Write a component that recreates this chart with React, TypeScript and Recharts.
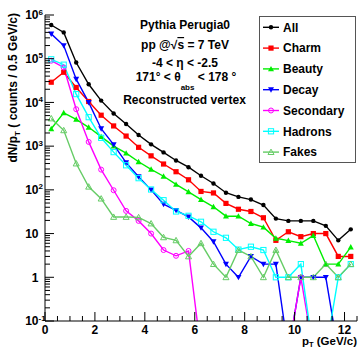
import { LineChart, Line, XAxis, YAxis } from 'recharts'

// pT bin centres, 0.5 GeV/c wide bins
const ptBins = [
  0.25, 0.75, 1.25, 1.75, 2.25, 2.75, 3.25, 3.75, 4.25, 4.75, 5.25, 5.75, 6.25,
  6.75, 7.25, 7.75, 8.25, 8.75, 9.25, 9.75, 10.25, 10.75, 11.25, 11.75, 12.25,
]

// counts per bin for each source (0 = empty bin)
const allCounts = [590000, 400000, 82000, 26000, 11000, 5600, 3200, 1800, 1100, 720, 470, 330, 210, 140, 86, 69, 60, 45, 22, 19.5, 19.5, 19.5, 15, 7, 12.5]
const charmCounts = [29000, 49000, 22000, 10500, 5100, 2900, 1700, 940, 600, 390, 260, 170, 92, 85, 49, 36, 32, 23, 7, 11, 8.5, 10, 10, 3, 3]
const beautyCounts = [2500, 5800, 4100, 2700, 1650, 1000, 690, 440, 295, 205, 133, 90, 60, 41, 25, 25, 17, 14, 7.8, 6.9, 6, 9, 2, 2, 4.9]
const decayCounts = [370000, 200000, 34000, 10000, 2500, 1080, 420, 200, 100, 47, 34, 24, 13.5, 6.5, 2, 1, 3, 2, 2, 0, 1, 1, 1, 0, 0]
const secondaryCounts = [90000, 63000, 7000, 1250, 290, 98, 33, 19.5, 10, 4.2, 3.1, 4, 0, 0, 0, 0, 0, 0, 0, 0, 1, 0, 0, 0, 0]
const hadronCounts = [97000, 73000, 15500, 4600, 1550, 730, 365, 185, 102, 58, 32, 25.5, 18.6, 11, 8, 4.3, 5, 4.2, 1, 1, 2, 0, 0, 1, 2]
const fakeCounts = [4300, 2300, 400, 118, 63, 24, 24, 23.5, 17, 8.2, 7, 3, 6, 2, 1, 4.2, 3, 1, 4.2, 1, 1, 1, 2, 1, 2]

const xTicks = Array.from({ length: 26 }, (_, i) => i * 0.5)
const yTicks: number[] = []
for (let e = -1; e <= 5; e++) {
  for (let m = 1; m <= 9; m++) yTicks.push(m * Math.pow(10, e))
}
yTicks.push(1e6)

// empty bins are pushed below the axis so the line drops out of the frame
const EMPTY = 0.02

type Shape = 'circle' | 'square' | 'tri' | 'triDown' | 'openCircle' | 'openSquare' | 'openTri'

const series: { key: string; name: string; values: number[]; color: string; shape: Shape }[] = [
  { key: 'all', name: 'All', values: allCounts, color: '#000000', shape: 'circle' },
  { key: 'charm', name: 'Charm', values: charmCounts, color: '#ff0000', shape: 'square' },
  { key: 'beauty', name: 'Beauty', values: beautyCounts, color: '#00ee00', shape: 'tri' },
  { key: 'decay', name: 'Decay', values: decayCounts, color: '#0000ff', shape: 'triDown' },
  { key: 'secondary', name: 'Secondary', values: secondaryCounts, color: '#ff00ff', shape: 'openCircle' },
  { key: 'hadrons', name: 'Hadrons', values: hadronCounts, color: '#00ffff', shape: 'openSquare' },
  { key: 'fakes', name: 'Fakes', values: fakeCounts, color: '#66cc66', shape: 'openTri' },
]

const rows = ptBins.map((pt, i) => {
  const row: Record<string, number> = { pt }
  series.forEach((s) => {
    row[s.key] = s.values[i] > 0 ? s.values[i] : EMPTY
  })
  return row
})

const FONT = '"Liberation Sans", Arial, Helvetica, sans-serif'

function Marker({ cx, cy, shape, color }: { cx: number; cy: number; shape: Shape; color: string }) {
  switch (shape) {
    case 'circle':
      return <circle cx={cx} cy={cy} r={2.2} fill={color} />
    case 'square':
      return <rect x={cx - 2.6} y={cy - 2.6} width={5.2} height={5.2} fill={color} />
    case 'tri':
      return <polygon points={`${cx},${cy - 3} ${cx - 3},${cy + 2.4} ${cx + 3},${cy + 2.4}`} fill={color} />
    case 'triDown':
      return <polygon points={`${cx},${cy + 3} ${cx - 3},${cy - 2.4} ${cx + 3},${cy - 2.4}`} fill={color} />
    case 'openCircle':
      return <circle cx={cx} cy={cy} r={2.5} fill="none" stroke={color} strokeWidth={1} />
    case 'openSquare':
      return <rect x={cx - 2.6} y={cy - 2.6} width={5.2} height={5.2} fill="none" stroke={color} strokeWidth={1} />
    default:
      return (
        <polygon
          points={`${cx},${cy - 3} ${cx - 3},${cy + 2.4} ${cx + 3},${cy + 2.4}`}
          fill="none"
          stroke={color}
          strokeWidth={1}
        />
      )
  }
}

// ticks point into the frame, long ones carry the label
function XTick(props: any) {
  const { x, y, payload } = props
  const v = payload.value as number
  const major = v % 2 === 0
  return (
    <g>
      <line x1={x} x2={x} y1={y} y2={y - (major ? 9 : 5)} stroke="#000" />
      {major && v < 12.5 && (
        <text x={x} y={y + 12.5} textAnchor="middle" fontSize={12} fontWeight="bold" fontFamily={FONT}>
          {v}
        </text>
      )}
    </g>
  )
}

function YTick(props: any) {
  const { x, y, payload } = props
  const v = payload.value as number
  const exp = Math.round(Math.log10(v))
  const major = Math.abs(v - Math.pow(10, exp)) < 1e-9 * v
  const lx = x - 6.5
  return (
    <g>
      <line x1={x} x2={x + (major ? 9 : 5)} y1={y} y2={y} stroke="#000" />
      {major && (exp === 0 || exp === 1) && (
        <text x={lx} y={y + 4.3} textAnchor="end" fontSize={12} fontWeight="bold" fontFamily={FONT}>
          {exp === 0 ? '1' : '10'}
        </text>
      )}
      {major && exp !== 0 && exp !== 1 && (
        <g fontWeight="bold" fontFamily={FONT}>
          <text x={lx} y={y + 4.3} textAnchor="end" fontSize={12}>10</text>
          <text x={lx} y={y - 0.5} textAnchor="start" fontSize={8}>{exp}</text>
        </g>
      )}
    </g>
  )
}

function LegendBox() {
  const top = 27.3
  const step = 20.8
  return (
    <g>
      <rect x={259.5} y={16.5} width={96} height={146} fill="#fff" stroke="#555" strokeWidth={1} />
      {series.map((s, i) => {
        const cy = top + i * step
        return (
          <g key={s.key}>
            <line x1={263} x2={279} y1={cy} y2={cy} stroke={s.color} strokeWidth={1.4} />
            <Marker cx={271} cy={cy} shape={s.shape} color={s.color} />
            <text x={283} y={cy + 4.3} fontSize={12} fontWeight="bold" fontFamily={FONT}>
              {s.name}
            </text>
          </g>
        )
      })}
    </g>
  )
}

export default function App() {
  return (
    <div style={{ position: 'absolute', left: 0, top: 0, width: 360, height: 349, background: '#fff' }}>
      <LineChart width={360} height={349} data={rows} margin={{ top: 15, right: 3, bottom: 0, left: 0 }}>
        <XAxis
          dataKey="pt"
          type="number"
          domain={[0, 12.5]}
          ticks={xTicks}
          interval={0}
          height={28}
          tickSize={0}
          tickMargin={0}
          tickLine={false}
          axisLine={{ stroke: '#000' }}
          tick={<XTick />}
        />
        <XAxis
          xAxisId="top"
          orientation="top"
          dataKey="pt"
          type="number"
          domain={[0, 12.5]}
          height={0}
          tick={false}
          tickLine={false}
          axisLine={{ stroke: '#000' }}
        />
        <YAxis
          type="number"
          scale="log"
          domain={[0.1, 1e6]}
          allowDataOverflow
          ticks={yTicks}
          interval={0}
          width={45}
          tickSize={0}
          tickMargin={0}
          tickLine={false}
          axisLine={{ stroke: '#000' }}
          tick={<YTick />}
        />
        <YAxis
          yAxisId="right"
          orientation="right"
          type="number"
          scale="log"
          domain={[0.1, 1e6]}
          allowDataOverflow
          width={0}
          tick={false}
          tickLine={false}
          axisLine={{ stroke: '#000' }}
        />
        {series.map((s) => (
          <Line
            key={s.key}
            dataKey={s.key}
            stroke={s.color}
            strokeWidth={1.4}
            isAnimationActive={false}
            activeDot={false}
            dot={(p: any) =>
              p.value > 0.1 ? (
                <Marker key={`${s.key}-${p.index}`} cx={p.cx} cy={p.cy} shape={s.shape} color={s.color} />
              ) : (
                <g key={`${s.key}-${p.index}`} />
              )
            }
          />
        ))}
      </LineChart>
      <svg
        width={360}
        height={349}
        style={{ position: 'absolute', left: 0, top: 0, pointerEvents: 'none' }}
        fontFamily={FONT}
        fontWeight="bold"
      >
        <g fontSize={12} textAnchor="middle">
          <text x={185} y={29}>Pythia Perugia0</text>
          <text x={185} y={49}>
            pp @√<tspan textDecoration="overline">s</tspan> = 7 TeV
          </text>
          <text x={185} y={66.5}>-4 &lt; η &lt; -2.5</text>
          <text x={186} y={81}>
            171° &lt; θ<tspan fontSize={8} dy={9}>abs</tspan>
            <tspan dy={-9}> &lt; 178 °</tspan>
          </text>
          <text x={184.5} y={104}>Reconstructed vertex</text>
        </g>
        <text transform="translate(16.5,13) rotate(-90)" textAnchor="end" fontSize={12}>
          dN/p<tspan fontSize={8} dy={3}>T</tspan>
          <tspan dy={-3}>  ( counts / 0.5 GeV/c)</tspan>
        </text>
        <text x={357} y={345} textAnchor="end" fontSize={11.5}>
          p<tspan fontSize={7.5} dy={1.8}>T</tspan>
          <tspan dy={-1.8}> (GeV/c)</tspan>
        </text>
        <LegendBox />
      </svg>
    </div>
  )
}
